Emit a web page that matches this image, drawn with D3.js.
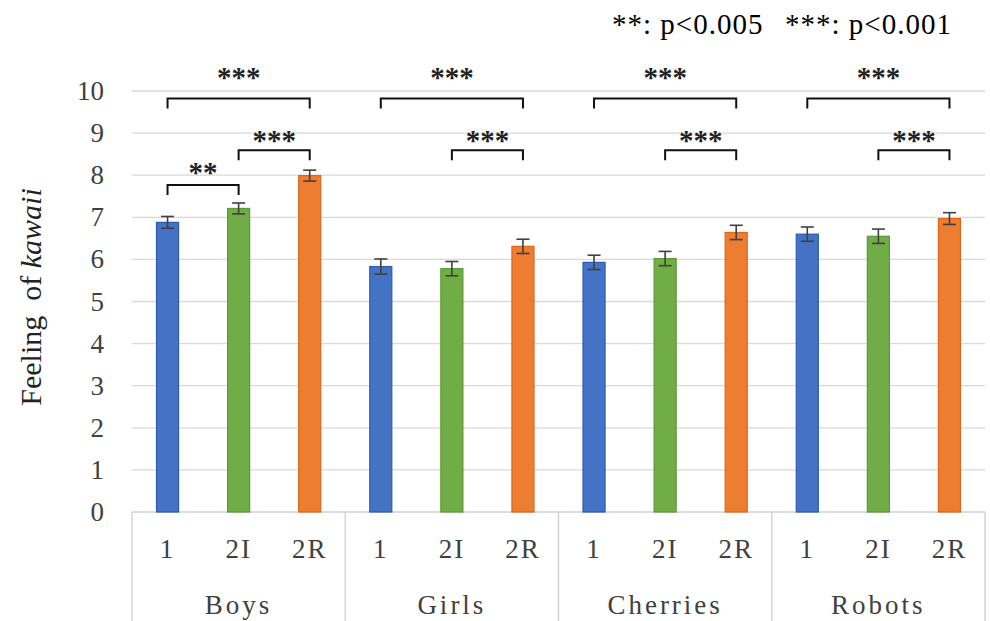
<!DOCTYPE html>
<html>
<head>
<meta charset="utf-8">
<script src="https://cdn.jsdelivr.net/npm/d3@7"></script>
<style>
  html, body { margin: 0; padding: 0; background: #fff; }
  svg { display: block; }
  text { font-family: "Liberation Serif", "Times New Roman", serif; }
</style>
</head>
<body>
<svg id="chart" width="990" height="621"></svg>
<script>
// ---- data ----
const groups = ["Boys", "Girls", "Cherries", "Robots"];
const conditions = ["1", "2I", "2R"];
const means = [
  [6.88, 7.21, 7.99],   // Boys
  [5.83, 5.78, 6.31],   // Girls
  [5.93, 6.02, 6.64],   // Cherries
  [6.60, 6.55, 6.97]    // Robots
];
const errors = [
  [0.14, 0.13, 0.13],
  [0.18, 0.17, 0.17],
  [0.17, 0.17, 0.17],
  [0.17, 0.17, 0.14]
];
const yTicks = [0, 1, 2, 3, 4, 5, 6, 7, 8, 9, 10];
// significance brackets: group index, from condition, to condition, bracket level, label level, label
const brackets = [
  [0, "1", "2R", 9.82, 10.42, "***"],
  [0, "2I", "2R", 8.59, 8.93, "***"],
  [0, "1", "2I", 7.77, 8.17, "**"],
  [1, "1", "2R", 9.82, 10.42, "***"],
  [1, "2I", "2R", 8.59, 8.93, "***"],
  [2, "1", "2R", 9.82, 10.42, "***"],
  [2, "2I", "2R", 8.59, 8.93, "***"],
  [3, "1", "2R", 9.82, 10.42, "***"],
  [3, "2I", "2R", 8.59, 8.93, "***"]
];
const legendItems = ["**: p<0.005", "***: p<0.001"];
const yLabelMain = "Feeling  of ";
const yLabelItalic = "kawaii";

// ---- styles ----
const fills = { "1": "#4472C4", "2I": "#70AD47", "2R": "#ED7D31" };
const strokes = { "1": "#2F5BB0", "2I": "#5B9A35", "2R": "#E0651A" };

const svg = d3.select("#chart");
const W = 990, H = 621;
const mLeft = 132, mRight = 985, mTop = 91, mBottom = 512;

const y = d3.scaleLinear().domain([0, 10]).range([mBottom, mTop]);
const xGroup = d3.scaleBand().domain(groups).range([mLeft, mRight]).padding(0);
const xCond = d3.scaleBand().domain(conditions).range([0, xGroup.bandwidth()])
  .paddingInner(0.69).paddingOuter(0.345);
const cx = (gi, c) => xGroup(groups[gi]) + xCond(c) + xCond.bandwidth() / 2;

// gridlines
svg.append("g").selectAll("line").data(yTicks.filter(d => d > 0)).join("line")
  .attr("x1", mLeft).attr("x2", mRight)
  .attr("y1", d => y(d)).attr("y2", d => y(d))
  .attr("stroke", "#d9d9d9").attr("stroke-width", 1.3);

// y tick labels
svg.append("g").selectAll("text").data(yTicks).join("text")
  .attr("x", 104).attr("y", d => y(d) + 9)
  .attr("text-anchor", "end")
  .attr("font-size", 27).attr("fill", "#404040")
  .text(d => d);

// category axis lines
svg.append("line").attr("x1", mLeft).attr("x2", mRight).attr("y1", mBottom).attr("y2", mBottom)
  .attr("stroke", "#d0d0d0").attr("stroke-width", 1.3);
const seps = groups.map(g => xGroup(g)).concat([mRight]);
svg.append("g").selectAll("line").data(seps).join("line")
  .attr("x1", d => d).attr("x2", d => d).attr("y1", mBottom).attr("y2", H)
  .attr("stroke", "#d0d0d0").attr("stroke-width", 1.3);

// bars
const flat = [];
groups.forEach((g, gi) => conditions.forEach((c, ci) =>
  flat.push({ gi, c, v: means[gi][ci], e: errors[gi][ci] })));

svg.append("g").selectAll("rect").data(flat).join("rect")
  .attr("x", d => xGroup(groups[d.gi]) + xCond(d.c))
  .attr("width", xCond.bandwidth())
  .attr("y", d => y(d.v))
  .attr("height", d => y(0) - y(d.v))
  .attr("fill", d => fills[d.c])
  .attr("stroke", d => strokes[d.c]).attr("stroke-width", 1.2);

// error bars
const eb = svg.append("g").attr("stroke", "#404040").attr("stroke-width", 1.6);
flat.forEach(d => {
  const x = cx(d.gi, d.c);
  eb.append("line").attr("x1", x).attr("x2", x).attr("y1", y(d.v + d.e)).attr("y2", y(d.v - d.e));
  eb.append("line").attr("x1", x - 6.5).attr("x2", x + 6.5).attr("y1", y(d.v + d.e)).attr("y2", y(d.v + d.e));
  eb.append("line").attr("x1", x - 6.5).attr("x2", x + 6.5).attr("y1", y(d.v - d.e)).attr("y2", y(d.v - d.e));
});

// condition labels
svg.append("g").selectAll("text").data(flat).join("text")
  .attr("x", d => cx(d.gi, d.c)).attr("y", 558)
  .attr("text-anchor", "middle").attr("font-size", 27).attr("fill", "#404040")
  .attr("letter-spacing", 2)
  .text(d => d.c);

// group labels
svg.append("g").selectAll("text").data(groups).join("text")
  .attr("x", d => xGroup(d) + xGroup.bandwidth() / 2).attr("y", 614)
  .attr("text-anchor", "middle").attr("font-size", 27).attr("fill", "#404040")
  .attr("letter-spacing", 3)
  .text(d => d);

// brackets
const bg = svg.append("g");
brackets.forEach(([gi, a, b, lvl, lab, txt]) => {
  const x1 = cx(gi, a), x2 = cx(gi, b), yy = y(lvl);
  bg.append("path")
    .attr("d", `M${x1},${yy + 10}V${yy}H${x2}V${yy + 10}`)
    .attr("fill", "none").attr("stroke", "#111").attr("stroke-width", 2);
  bg.append("text")
    .attr("x", (x1 + x2) / 2).attr("y", y(lab) + 14)
    .attr("text-anchor", "middle").attr("font-size", 29).attr("font-weight", "bold")
    .attr("fill", "#222")
    .text(txt);
});

// legend (significance)
svg.append("text").attr("x", 612).attr("y", 34).attr("font-size", 29)
  .attr("letter-spacing", 1).attr("fill", "#000").text(legendItems[0]);
svg.append("text").attr("x", 785).attr("y", 34).attr("font-size", 29)
  .attr("letter-spacing", 1).attr("fill", "#000").text(legendItems[1]);

// y axis label
const yl = svg.append("text")
  .attr("transform", `translate(41,297) rotate(-90)`)
  .attr("text-anchor", "middle").attr("font-size", 30).attr("fill", "#222");
yl.append("tspan").style("white-space", "pre").text(yLabelMain);
yl.append("tspan").attr("font-style", "italic").text(yLabelItalic);
</script>
</body>
</html>
